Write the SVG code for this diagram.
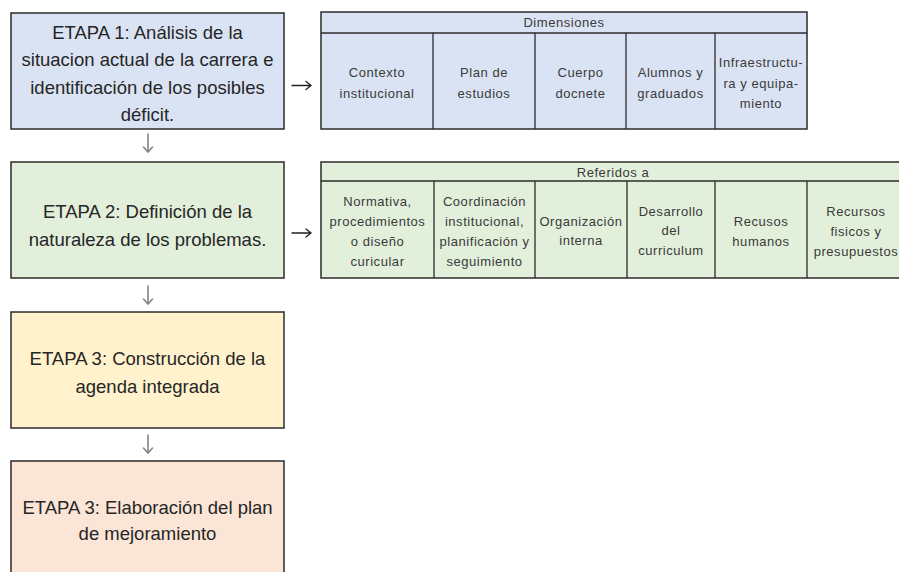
<svg xmlns="http://www.w3.org/2000/svg" width="899" height="572" viewBox="0 0 899 572">
<defs>
<style>
.box{stroke:#2b2b2b;stroke-width:1.5}
.b1{fill:#dae3f3}.b2{fill:#e2efda}.b3{fill:#fff2cc}.b4{fill:#fbe5d6}
.cell{fill:none;stroke:#2b2b2b;stroke-width:1.3}
.t{font-family:'Liberation Sans',Arial,sans-serif;font-size:18.5px;fill:#262626;text-anchor:middle}
.s{font-family:'Liberation Sans',Arial,sans-serif;font-size:13px;letter-spacing:0.55px;fill:#3a3a3a;text-anchor:middle}
.ar{fill:none;stroke:#222;stroke-width:1.3;stroke-linecap:round}
.ad{fill:none;stroke:#858585;stroke-width:1.6;stroke-linecap:round}
</style>
</defs>
<rect width="899" height="572" fill="#ffffff"/>

<g id="etapa1">
<rect class="box b1" x="11" y="13" width="273" height="116"/>
<text class="t" x="147.5" y="38.5">ETAPA 1: Análisis de la</text>
<text class="t" x="147.5" y="66">situacion actual de la carrera e</text>
<text class="t" x="147.5" y="93.5">identificación de los posibles</text>
<text class="t" x="147.5" y="121">déficit.</text>
</g>

<g id="etapa2">
<rect class="box b2" x="11" y="162" width="273" height="116"/>
<text class="t" x="147.5" y="217.5">ETAPA 2: Definición de la</text>
<text class="t" x="147.5" y="245.5">naturaleza de los problemas.</text>
</g>

<g id="etapa3">
<rect class="box b3" x="11" y="312" width="273" height="116"/>
<text class="t" x="147.5" y="364.5">ETAPA 3: Construcción de la</text>
<text class="t" x="147.5" y="392.5">agenda integrada</text>
</g>

<g id="etapa4">
<rect class="box b4" x="11" y="461" width="273" height="125"/>
<text class="t" x="147.5" y="513.5">ETAPA 3: Elaboración del plan</text>
<text class="t" x="147.5" y="539.5">de mejoramiento</text>
</g>

<g id="dimensiones">
<rect class="box b1" x="321" y="12" width="486" height="117"/>
<line class="cell" x1="321" y1="33" x2="807" y2="33"/>
<line class="cell" x1="433" y1="33" x2="433" y2="129"/>
<line class="cell" x1="535" y1="33" x2="535" y2="129"/>
<line class="cell" x1="626" y1="33" x2="626" y2="129"/>
<line class="cell" x1="715" y1="33" x2="715" y2="129"/>
<text class="s" x="564" y="27">Dimensiones</text>
<text class="s" x="377" y="76.5">Contexto</text>
<text class="s" x="377" y="97.5">institucional</text>
<text class="s" x="484" y="76.5">Plan de</text>
<text class="s" x="484" y="97.5">estudios</text>
<text class="s" x="580.5" y="76.5">Cuerpo</text>
<text class="s" x="580.5" y="97.5">docnete</text>
<text class="s" x="670.5" y="76.5">Alumnos y</text>
<text class="s" x="670.5" y="97.5">graduados</text>
<text class="s" x="761" y="66.5">Infraestructu-</text>
<text class="s" x="761" y="87.5">ra y equipa-</text>
<text class="s" x="761" y="107.5">miento</text>
</g>

<g id="referidos">
<rect class="box b2" x="321" y="162" width="584" height="116"/>
<line class="cell" x1="321" y1="181" x2="905" y2="181"/>
<line class="cell" x1="434" y1="181" x2="434" y2="278"/>
<line class="cell" x1="535" y1="181" x2="535" y2="278"/>
<line class="cell" x1="627" y1="181" x2="627" y2="278"/>
<line class="cell" x1="715" y1="181" x2="715" y2="278"/>
<line class="cell" x1="807" y1="181" x2="807" y2="278"/>
<text class="s" x="613" y="177">Referidos a</text>
<text class="s" x="377.5" y="205.5">Normativa,</text>
<text class="s" x="377.5" y="225.5">procedimientos</text>
<text class="s" x="377.5" y="245.5">o diseño</text>
<text class="s" x="377.5" y="265.5">curicular</text>
<text class="s" x="484.5" y="205.5">Coordinación</text>
<text class="s" x="484.5" y="225.5">institucional,</text>
<text class="s" x="484.5" y="245.5">planificación y</text>
<text class="s" x="484.5" y="265.5">seguimiento</text>
<text class="s" x="581" y="225.5">Organización</text>
<text class="s" x="581" y="245">interna</text>
<text class="s" x="671" y="215.5">Desarrollo</text>
<text class="s" x="671" y="235">del</text>
<text class="s" x="671" y="254.5">curriculum</text>
<text class="s" x="761" y="225.5">Recusos</text>
<text class="s" x="761" y="245.5">humanos</text>
<text class="s" x="856" y="215.5">Recursos</text>
<text class="s" x="856" y="235.5">fisicos y</text>
<text class="s" x="856" y="255.5">presupuestos</text>
</g>

<g id="connectors">
<path class="ar" d="M292 85.5H311M306 81.5L311 85.5L306 89.5"/>
<path class="ar" d="M292 233H311M306 229L311 233L306 237"/>
<path class="ad" d="M148 134V152M143.5 147L148 152L152.5 147"/>
<path class="ad" d="M148 286V304M143.5 299L148 304L152.5 299"/>
<path class="ad" d="M148 435V453M143.5 448L148 453L152.5 448"/>
</g>
</svg>
